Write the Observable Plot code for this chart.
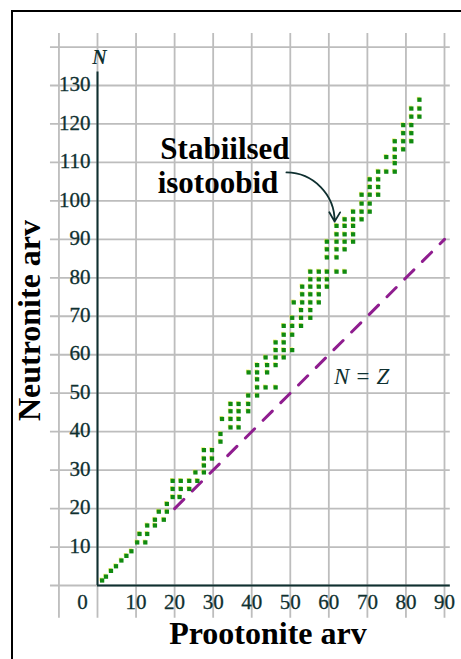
<!DOCTYPE html>
<html><head><meta charset="utf-8">
<script src="https://cdn.jsdelivr.net/npm/d3@7"></script>
<script src="https://cdn.jsdelivr.net/npm/@observablehq/plot@0.6"></script>
<style>
html,body{margin:0;padding:0;background:#fff;overflow:hidden}
#wrap{position:relative;width:461px;height:659px;overflow:hidden;background:#fff}
#border{position:absolute;left:11px;top:10px;width:470px;height:670px;border-left:2px solid #000;border-top:2px solid #000;pointer-events:none}
</style></head><body><div id="wrap"><div id="chart"></div><div id="border"></div></div>
<script>
// Stable isotopes: proton number Z and neutron number N
const protonZ = [
 1.2,2.2,3.5,4.8,6.2,7.5,8.8,
 10.3,12.4, 10.9,12.9, 12.9,14.9, 14.9,17.2, 15.9,18.0, 18.0,
 19.5,21.3, 19.5,21.6,23.8, 19.5,21.6,23.8,25.9,
 25.4,27.6, 27.6, 27.6,29.7, 27.6,29.7, 31.9, 31.9,
 34.5,36.6, 32.3,34.5,36.6, 34.5,36.6,39.1, 34.5,36.6,39.1,
 39.1,41.4, 41.4,43.6,46.2, 41.4, 39.2,41.4,44.0, 41.4,44.0,46.2,
 43.6,46.2,48.3, 46.2,48.3,50.5, 46.2,48.3, 48.3,50.5, 48.3,50.5,52.8,
 50.5,52.8,55.2, 52.8,55.2, 50.9,53.1,55.2,57.4, 53.1,55.2,57.4,
 53.1,55.2,57.4,59.5, 55.2,57.4,59.5, 55.2,57.4,59.5,62.0,64.1,
 59.5,62.0, 59.5,62.0,64.1, 59.5,62.0,64.1,66.3, 62.0,64.1,66.3,
 62.0,64.1,66.3, 64.1,66.3,68.5, 66.3,68.5,70.6, 68.5,70.6,
 68.5,70.6,72.8, 70.6,72.8, 70.6,72.8, 72.8,74.9,77.1, 77.1,
 74.9,77.1, 77.1,79.3, 77.1,79.3,81.4, 79.3,81.4, 79.3,81.4,
 81.4,83.5, 81.4,83.5, 83.5
];
const neutronN = [
 1.3,2.3,3.8,5.0,6.5,7.7,8.9,
 11.2,11.2, 13.4,13.4, 15.6,15.6, 17.1,17.1, 19.2,19.2, 21.2,
 23.0,23.0, 25.1,25.1,25.1, 27.2,27.2,27.2,27.2,
 29.4,29.4, 31.2, 33.0,33.0, 35.2,35.2, 37.4, 39.4,
 41.1,41.1, 43.3,43.3,43.3, 45.3,45.3,45.3, 47.2,47.2,47.2,
 49.4,49.4, 51.5,51.5,51.5, 53.6, 55.4,55.4,55.4, 57.3,57.3,57.3,
 59.3,59.3,59.3, 61.2,61.2,61.2, 63.2,63.2, 65.2,65.2, 67.5,67.5,67.5,
 69.6,69.6,69.6, 71.6,71.6, 73.6,73.6,73.6,73.6, 75.7,75.7,75.7,
 77.7,77.7,77.7,77.7, 79.6,79.6,79.6, 81.6,81.6,81.6,81.6,81.6,
 85.3,85.3, 87.4,87.4,87.4, 89.4,89.4,89.4,89.4, 91.3,91.3,91.3,
 93.5,93.5,93.5, 95.2,95.2,95.2, 97.2,97.2,97.2, 99.3,99.3,
 101.6,101.6,101.6, 103.6,103.6, 105.6,105.6, 107.6,107.6,107.6, 109.8,
 111.4,111.4, 113.4,113.4, 115.5,115.5,115.5, 117.6,117.6, 119.7,119.7,
 121.9,121.9, 124.0,124.0, 126.3
];
// N = Z reference line
const lineZ = [20, 90];
const lineN = [20, 90];
// tick labels and grid values
const xTicks = [10,20,30,40,50,60,70,80,90];
const yTicks = [10,20,30,40,50,60,70,80,90,100,110,120,130];
const xGrid = [-10,0,10,20,30,40,50,60,70,80,90];
const yGrid = [0,10,20,30,40,50,60,70,80,90,100,110,120,130,140];

const isotopes = protonZ.map((z, i) => ({z, n: neutronN[i]}));
const nz = lineZ.map((z, i) => ({z, n: lineN[i]}));

const ink = "#0f3030";
const serif = "'Liberation Serif', 'Times New Roman', serif";

const chart = Plot.plot({
  width: 461, height: 659, margin: 0,
  x: {domain: [0, 90], range: [97, 444], axis: null},
  y: {domain: [0, 130], range: [585, 85], axis: null},
  style: {background: "transparent", fontFamily: serif},
  marks: [
    Plot.ruleX(xGrid, {x: d => d, y1: -8.5, y2: 143.5, stroke: "#bdbdbd", strokeWidth: 1.8}),
    Plot.ruleY(yGrid, {y: d => d, x1: -12.2, x2: 91.5, stroke: "#bdbdbd", strokeWidth: 1.8}),
    Plot.ruleX([0], {x: d => d, y1: 0, y2: 133.5, stroke: ink, strokeWidth: 2}),
    Plot.ruleY([0], {y: d => d, x1: 0, x2: 91.5, stroke: ink, strokeWidth: 2}),
    Plot.line(nz, {x: "z", y: "n", stroke: "#8f1d8f", strokeWidth: 3, strokeDasharray: "13,12"}),
    Plot.dot(isotopes, {x: "z", y: "n", symbol: "square", r: 2.0, fill: "#eeee55", fillOpacity: 0.8, dx: -0.9, dy: -1.1}),
    Plot.dot(isotopes, {x: "z", y: "n", symbol: "square", r: 2.4, fill: "#108a10"}),
    Plot.text(xTicks, {x: d => d, y: 0, text: d => String(d), dy: 17, fontSize: 21, fill: ink, stroke: ink, strokeWidth: 0.3, fontFamily: serif}),
    Plot.text([0], {x: 0, y: 0, text: d => String(d), dx: -15, dy: 17, fontSize: 21, fill: ink, stroke: ink, strokeWidth: 0.3, fontFamily: serif}),
    Plot.text(yTicks, {x: 0, y: d => d, text: d => String(d), dx: -7, dy: -1, textAnchor: "end", fontSize: 21, fill: ink, stroke: ink, strokeWidth: 0.3, fontFamily: serif}),
    Plot.text(["N"], {x: 0, y: 137.3, text: d => d, dx: 2, fontSize: 20, fontStyle: "italic", fontWeight: "bold", fill: ink, fontFamily: serif}),
    Plot.text(["N = Z"], {x: 68.5, y: 54.3, text: d => d, fontSize: 23, fontStyle: "italic", fill: ink, fontFamily: serif}),
    Plot.text(["Stabiilsed"], {x: 16.3, y: 113.4, text: d => d, textAnchor: "start", fontSize: 31, fontWeight: "bold", fill: "#000", fontFamily: serif}),
    Plot.text(["isotoobid"], {x: 15.6, y: 104.5, text: d => d, textAnchor: "start", fontSize: 31, fontWeight: "bold", fill: "#000", fontFamily: serif}),
    Plot.arrow([{x1: 49.0, y1: 107.4, x2: 61.5, y2: 94.6}], {x1: "x1", y1: "y1", x2: "x2", y2: "y2", bend: 45, stroke: ink, strokeWidth: 1.8, headLength: 9}),
    Plot.text(["Prootonite arv"], {x: 44.2, y: -12.5, text: d => d, fontSize: 32, fontWeight: "bold", fill: "#000", fontFamily: serif}),
    Plot.text(["Neutronite arv"], {x: -17.6, y: 68.9, text: d => d, rotate: -90, fontSize: 32, fontWeight: "bold", fill: "#000", fontFamily: serif})
  ]
});
document.getElementById("chart").appendChild(chart);
</script>
</body></html>
